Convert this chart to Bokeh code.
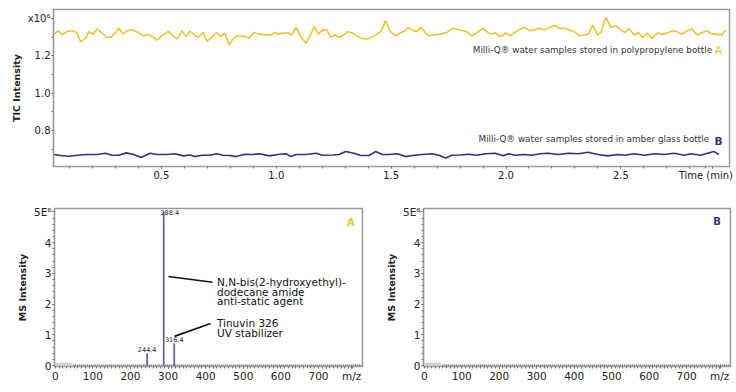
from bokeh.plotting import figure
from bokeh.layouts import column, row
from bokeh.models import FixedTicker, PrintfTickFormatter, Range1d
from bokeh.core.properties import value
from bokeh.embed import file_html
from bokeh.resources import INLINE
import numpy as np

FONT = "DejaVu Sans"
YELLOW = "#F2C12E"
PURPLE = "#3C2A84"
PEAK = "#6E5FA0"
GRAY = "#9a9a9a"

# ---------------- TIC traces (x10^6) ----------------
tic_a_time = [0.033, 0.050, 0.069, 0.090, 0.112, 0.131, 0.148, 0.170, 0.184, 0.203,
              0.220, 0.242, 0.260, 0.278, 0.295, 0.314, 0.333, 0.350, 0.372, 0.393,
              0.422, 0.444, 0.465, 0.480, 0.501, 0.530, 0.552, 0.569, 0.588, 0.607,
              0.624, 0.646, 0.660, 0.682, 0.699, 0.718, 0.740, 0.757, 0.776, 0.794,
              0.812, 0.829, 0.848, 0.862, 0.881, 0.903, 0.927, 0.956, 0.978, 0.996,
              1.007, 1.028, 1.050, 1.067, 1.086, 1.108, 1.129, 1.148, 1.165, 1.183,
              1.201, 1.220, 1.237, 1.255, 1.273, 1.295, 1.312, 1.331, 1.353, 1.374,
              1.396, 1.418, 1.439, 1.458, 1.475, 1.497, 1.519, 1.540, 1.562, 1.572,
              1.591, 1.610, 1.630, 1.649, 1.663, 1.685, 1.714, 1.742, 1.771, 1.793,
              1.815, 1.829, 1.851, 1.872, 1.898, 1.916, 1.937, 1.952, 1.970,
              1.981, 1.998, 2.017, 2.038, 2.060, 2.082, 2.103, 2.125, 2.146, 2.168,
              2.190, 2.211, 2.233, 2.255, 2.276, 2.298, 2.320, 2.341, 2.359, 2.377,
              2.399, 2.413, 2.435, 2.457, 2.478, 2.500, 2.517, 2.536, 2.558, 2.575,
              2.594, 2.615, 2.637, 2.659, 2.680, 2.702, 2.724, 2.745, 2.767, 2.789,
              2.810, 2.832, 2.854, 2.875, 2.897, 2.918, 2.940, 2.956]
tic_a_int = [1.317, 1.335, 1.314, 1.332, 1.335, 1.326, 1.276, 1.294, 1.330, 1.317,
             1.344, 1.323, 1.300, 1.300, 1.317, 1.348, 1.317, 1.335, 1.340, 1.330,
             1.308, 1.314, 1.300, 1.285, 1.308, 1.332, 1.305, 1.291, 1.335, 1.305,
             1.332, 1.312, 1.300, 1.326, 1.278, 1.300, 1.326, 1.305, 1.323, 1.259,
             1.291, 1.308, 1.305, 1.308, 1.294, 1.326, 1.317, 1.312, 1.312, 1.326,
             1.317, 1.323, 1.323, 1.312, 1.353, 1.300, 1.268, 1.312, 1.358, 1.317,
             1.340, 1.340, 1.300, 1.314, 1.300, 1.314, 1.330, 1.323, 1.305, 1.294,
             1.291, 1.300, 1.317, 1.335, 1.388, 1.330, 1.308, 1.323, 1.335, 1.353,
             1.340, 1.330, 1.353, 1.326, 1.308, 1.312, 1.317, 1.326, 1.349, 1.340,
             1.335, 1.330, 1.308, 1.323, 1.349, 1.330, 1.317, 1.326, 1.305,
             1.308, 1.323, 1.308, 1.326, 1.344, 1.353, 1.335, 1.340, 1.348, 1.340,
             1.353, 1.365, 1.348, 1.348, 1.340, 1.330, 1.308, 1.312, 1.317, 1.365,
             1.312, 1.326, 1.406, 1.353, 1.362, 1.340, 1.326, 1.348, 1.312, 1.326,
             1.300, 1.323, 1.294, 1.323, 1.317, 1.323, 1.335, 1.330, 1.317, 1.335,
             1.344, 1.312, 1.326, 1.335, 1.317, 1.317, 1.312, 1.340]

tic_b_time = [0.033, 0.061, 0.097, 0.133, 0.177, 0.220, 0.256, 0.285, 0.314, 0.347,
              0.379, 0.411, 0.451, 0.480, 0.523, 0.559, 0.595, 0.624, 0.646, 0.675,
              0.711, 0.740, 0.768, 0.797, 0.826, 0.862, 0.898, 0.927, 0.970, 1.014,
              1.043, 1.064, 1.086, 1.129, 1.172, 1.201, 1.245, 1.273, 1.302, 1.338,
              1.367, 1.403, 1.432, 1.461,
              1.491, 1.527, 1.563, 1.600, 1.636, 1.679, 1.708, 1.737, 1.765, 1.802,
              1.838, 1.874, 1.910, 1.953, 1.989, 2.011, 2.040, 2.076, 2.112, 2.148,
              2.184, 2.227, 2.271, 2.314, 2.357, 2.400, 2.444, 2.487, 2.516, 2.559,
              2.602, 2.646, 2.689, 2.732, 2.776, 2.805, 2.848, 2.877, 2.906, 2.927]
tic_b_int = [0.672, 0.667, 0.663, 0.668, 0.672, 0.672, 0.679, 0.668, 0.668, 0.681,
             0.672, 0.656, 0.679, 0.672, 0.672, 0.676, 0.665, 0.670, 0.661, 0.668,
             0.668, 0.676, 0.668, 0.667, 0.661, 0.674, 0.672, 0.676, 0.665, 0.674,
             0.676, 0.661, 0.672, 0.672, 0.679, 0.668, 0.670, 0.672, 0.688, 0.679,
             0.667, 0.667, 0.688, 0.672,
             0.672, 0.676, 0.661, 0.668, 0.672, 0.676, 0.668, 0.654, 0.668, 0.670,
             0.674, 0.668, 0.676, 0.679, 0.665, 0.676, 0.668, 0.672, 0.668, 0.676,
             0.679, 0.672, 0.679, 0.676, 0.684, 0.672, 0.665, 0.672, 0.668, 0.676,
             0.668, 0.676, 0.672, 0.679, 0.668, 0.676, 0.668, 0.679, 0.688, 0.672]

tic_y_ticks = [0.8, 1.0, 1.2, 1.4]
tic_x_ticks = [0.5, 1.0, 1.5, 2.0, 2.5]

# ---------------- MS spectra (x10^6) ----------------
ms_a_mz = [244.4, 288.4, 316.4]
ms_a_int = [0.40, 5.00, 0.73]
ms_a_labels = ["244.4", "288.4", "316.4"]
baseline_mz = [48, 815]
baseline_int = [0.015, 0.015]
ms_y_ticks = [0, 1, 2, 3, 4, 5]
ms_x_ticks = [0, 100, 200, 300, 400, 500, 600, 700]


def style(p, tick_size):
    for ax in (p.xaxis[0], p.yaxis[0]):
        ax.axis_line_color = GRAY
        ax.axis_line_width = 1.2
        ax.major_tick_line_color = "#666"
        ax.minor_tick_line_color = "#777"
        ax.major_tick_out = 2
        ax.major_tick_in = 0
        ax.minor_tick_out = 2
        ax.minor_tick_in = 0
        ax.major_label_standoff = 1
        ax.major_label_text_font = FONT
        ax.major_label_text_font_size = tick_size
        ax.major_label_text_color = "#222"
        ax.axis_label_text_font = FONT
        ax.axis_label_text_font_style = "bold"
        ax.axis_label_text_font_size = "9.5px"
        ax.axis_label_text_color = "#222"
        ax.axis_label_standoff = 3
    p.xgrid.visible = False
    p.ygrid.visible = False
    p.outline_line_color = GRAY
    p.outline_line_width = 1.5
    p.background_fill_color = "white"
    p.border_fill_color = "white"


# ---------------- Top: TIC ----------------
p1 = figure(width=734, height=198, x_range=Range1d(0.03, 2.973), y_range=Range1d(0.608, 1.449),
            output_backend="svg", toolbar_location=None,
            min_border_left=53, min_border_right=5, min_border_top=9, min_border_bottom=32)
p1.line(tic_a_time, tic_a_int, line_color=YELLOW, line_width=1.6)
p1.line(tic_b_time, tic_b_int, line_color=PURPLE, line_width=1.6)
style(p1, "10px")
time_label_pos = 2.87
p1.xaxis.ticker = FixedTicker(ticks=tic_x_ticks + [time_label_pos],
                              minor_ticks=[round(0.1 * i, 1) for i in range(1, 30)])
p1.xaxis.formatter = PrintfTickFormatter(format="%.1f")
p1.xaxis.major_label_overrides = {time_label_pos: "Time (min)"}
p1.yaxis.ticker = FixedTicker(ticks=tic_y_ticks, minor_ticks=[0.7, 0.9, 1.1, 1.3])
p1.yaxis.formatter = PrintfTickFormatter(format="%.1f")
p1.yaxis.major_label_overrides = {1.4: "x10\u2076"}
p1.yaxis.axis_label = "TIC Intensity"

p1.text(x=[2.897], y=[1.232], text=["Milli-Q\u00ae water samples stored in polypropylene bottle"],
        text_align="right", text_baseline="middle", text_font=value(FONT),
        text_font_size="8.8px", text_color="#333")
p1.text(x=[2.925], y=[1.232], text=["A"], text_align="center", text_baseline="middle",
        text_font=value(FONT), text_font_size="11px", text_color=YELLOW)
p1.text(x=[2.884], y=[0.757], text=["Milli-Q\u00ae water samples stored in amber glass bottle"],
        text_align="right", text_baseline="middle", text_font=value(FONT),
        text_font_size="8.8px", text_color="#333")
p1.text(x=[2.925], y=[0.747], text=["B"], text_align="center", text_baseline="middle",
        text_font=value(FONT), text_font_size="10.5px", text_font_style="bold", text_color=PURPLE)


def ms_fig(width, border_left, border_right):
    p = figure(width=width, height=192, x_range=Range1d(-2, 817), y_range=Range1d(-0.03, 5.11),
               output_backend="svg", toolbar_location=None,
               min_border_left=border_left, min_border_right=border_right, min_border_top=10,
               min_border_bottom=24)
    style(p, "10.5px")
    p.xaxis.ticker = FixedTicker(ticks=ms_x_ticks + [788], minor_ticks=list(range(10, 800, 10)))
    p.xaxis.major_label_overrides = {788: "m/z"}
    p.yaxis.ticker = FixedTicker(ticks=ms_y_ticks, minor_ticks=[round(0.2 * i, 1) for i in range(1, 26)])
    p.yaxis.major_label_overrides = {5: "5E\u2076"}
    p.yaxis.axis_label = "MS Intensity"
    # solvent-delay band and baseline noise
    p.quad(left=[0], right=[45], bottom=[-0.03], top=[0.09], fill_color="#cfcfcf", line_color=None)
    p.line(baseline_mz, baseline_int, line_color="#333", line_width=1.2, line_dash="1 1")
    return p


# ---------------- Bottom left: MS A ----------------
p2 = ms_fig(377, 54, 15)
p2.segment(x0=ms_a_mz, y0=[0] * len(ms_a_mz), x1=ms_a_mz, y1=ms_a_int, line_color=PEAK, line_width=1.8)
top_i = int(np.argmax(ms_a_int))
for i, (mz, h, lab) in enumerate(zip(ms_a_mz, ms_a_int, ms_a_labels)):
    if i == top_i:
        p2.text(x=[mz], y=[min(h, 4.9)], text=[lab], text_align="center", text_baseline="bottom",
                x_offset=6, text_font=value(FONT), text_font_size="6.5px", text_color="#222")
    else:
        p2.text(x=[mz], y=[h + 0.05], text=[lab], text_align="center", text_baseline="bottom",
                text_font=value(FONT), text_font_size="6.5px", text_color="#222")

# callouts
p2.segment(x0=[301, 317], y0=[2.90, 0.95], x1=[418, 413], y1=[2.71, 1.37], line_color="#111", line_width=1.6)
call1 = ["N,N-bis(2-hydroxyethyl)-", "dodecane amide", "anti-static agent"]
call2 = ["Tinuvin 326", "UV stabilizer"]
p2.text(x=[430] * 3, y=[2.71, 2.39, 2.09], text=call1, text_align="left", text_baseline="middle",
        text_font=value(FONT), text_font_size="10.5px", text_color="#111")
p2.text(x=[430] * 2, y=[1.37, 1.07], text=call2, text_align="left", text_baseline="middle",
        text_font=value(FONT), text_font_size="10.5px", text_color="#111")
p2.text(x=[786], y=[4.66], text=["A"], text_align="center", text_baseline="middle",
        text_font=value(FONT), text_font_size="10px", text_font_style="bold", text_color=YELLOW)

# ---------------- Bottom right: MS B ----------------
p3 = ms_fig(358, 46, 5)
p3.text(x=[781], y=[4.69], text=["B"], text_align="center", text_baseline="middle",
        text_font=value(FONT), text_font_size="10px", text_font_style="bold", text_color=PURPLE)

layout = column(p1, row(p2, p3))
open("out.html", "w").write(file_html(layout, INLINE))
